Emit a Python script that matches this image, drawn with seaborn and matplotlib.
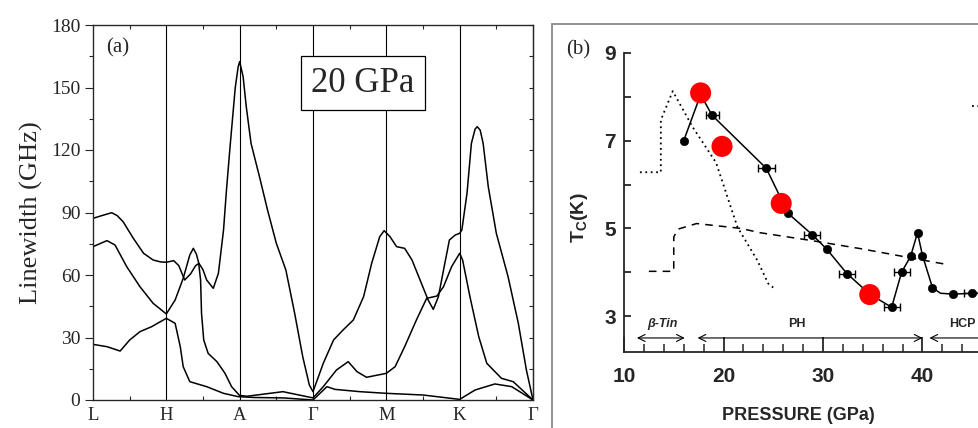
import numpy as np
import pandas as pd
import matplotlib
matplotlib.use("Agg")
import matplotlib.pyplot as plt
from matplotlib.lines import Line2D
from matplotlib.ticker import MultipleLocator, FixedLocator
import seaborn as sns

# ---- panel (a): linewidth along high-symmetry path ----
path_labels = ['L', 'H', 'A', 'Γ', 'M', 'K', 'Γ']
path_pos = [0, 1, 2, 3, 4, 5, 6]

top_q = [0, 0.12, 0.255, 0.33, 0.41, 0.55, 0.69, 0.82, 0.92, 1.0, 1.10, 1.17, 1.25, 1.33, 1.40,
         1.445, 1.50, 1.55, 1.64, 1.71, 1.78, 1.82, 1.87, 1.94, 1.98, 2.0, 2.047, 2.09, 2.155,
         2.27, 2.38, 2.50, 2.63, 2.75, 2.86, 2.95, 3.0, 3.14, 3.28, 3.41, 3.55, 3.69, 3.80, 3.91,
         3.97, 4.05, 4.14, 4.25, 4.35, 4.46, 4.57, 4.64, 4.71, 4.78, 4.86, 4.94, 5.0, 5.03, 5.10,
         5.16, 5.21, 5.24, 5.28, 5.32, 5.39, 5.50, 5.66, 5.80, 5.91, 6.0]
top_w = [87.2, 88.5, 89.9, 88.5, 85.6, 77.6, 70.4, 67.2, 66.3, 66.1, 66.9, 64.5, 57.6, 60.5, 64.5,
         65.6, 62.5, 57.6, 53.6, 60.8, 81.6, 100.8, 122.0, 150.0, 160.0, 162.4, 155.2, 140.8, 123.2,
         107.2, 91.2, 75.2, 62.4, 41.6, 20.8, 7.2, 4.0, 17.6, 28.8, 33.6, 38.4, 49.6, 65.6, 78.4,
         81.3, 78.4, 73.6, 72.8, 67.2, 57.6, 48.0, 43.5, 49.6, 62.4, 76.8, 79.2, 80.0, 81.6, 99.2,
         123.2, 130.0, 131.2, 129.5, 123.2, 102.4, 80.0, 59.2, 36.8, 14.4, 0.0]

mid_q = [0, 0.19, 0.30, 0.46, 0.64, 0.82, 1.0, 1.12, 1.23, 1.32, 1.368, 1.41, 1.44, 1.467, 1.48,
         1.51, 1.57, 1.69, 1.80, 1.89, 1.98, 2.0, 2.1, 2.59, 3.0, 3.14, 3.32, 3.48, 3.60, 3.73, 4.0,
         4.12, 4.25, 4.41, 4.55, 4.69, 4.78, 4.89, 5.0, 5.04, 5.14, 5.26, 5.37, 5.57, 5.73, 6.0]
mid_w = [73.6, 76.5, 74.4, 64.0, 54.4, 46.4, 41.3, 48.0, 58.4, 69.6, 72.8, 70.0, 66.0, 57.6, 41.6,
         28.8, 22.4, 18.4, 12.8, 6.4, 2.9, 2.2, 1.8, 4.0, 1.0, 6.4, 14.4, 18.4, 13.6, 10.9, 12.8,
         16.0, 25.6, 38.4, 48.8, 49.9, 54.4, 64.0, 70.4, 67.2, 49.6, 30.4, 17.6, 10.4, 8.8, 0.0]

low_q = [0, 0.19, 0.37, 0.5, 0.64, 0.8, 1.0, 1.12, 1.19, 1.23, 1.32, 1.55, 1.78, 1.98, 2.2, 2.6,
         3.0, 3.19, 3.30, 3.64, 4.0, 4.5, 5.0, 5.21, 5.48, 5.71, 6.0]
low_w = [26.7, 25.6, 23.5, 28.8, 32.8, 35.2, 39.2, 36.8, 25.6, 16.0, 8.8, 6.4, 3.2, 1.6, 1.2, 1.0,
         0.0, 6.4, 5.1, 4.0, 3.2, 2.4, 0.3, 4.8, 7.7, 6.4, 0.0]

# ---- panel (b): Tc vs pressure ----
exp_p = [16.0, 17.7, 18.85, 24.3, 26.5, 28.9, 30.4, 32.4, 34.7, 36.9, 37.9, 38.8, 39.5, 40.0,
         41.0, 41.8, 43.1, 45.0, 46.5]
exp_tc = [7.0, 8.05, 7.58, 6.37, 5.34, 4.86, 4.52, 3.97, 3.5, 3.2, 4.0, 4.36, 4.9, 4.38,
          3.65, 3.52, 3.5, 3.52, 3.52]
dot_p = [16.0, 18.85, 24.3, 26.5, 28.9, 30.4, 32.4, 36.9, 37.9, 38.8, 39.5, 40.0, 41.0, 43.1, 45.0]
dot_tc = [7.0, 7.58, 6.37, 5.34, 4.86, 4.52, 3.97, 3.2, 4.0, 4.36, 4.9, 4.38, 3.65, 3.5, 3.52]
err_p = [18.85, 24.3, 28.9, 32.4, 36.9, 37.9, 45.0]
err_tc = [7.58, 6.37, 4.86, 3.97, 3.2, 4.0, 3.52]
err_dp = [0.65, 0.85, 0.8, 0.8, 0.8, 0.8, 0.8]

calc_p = [17.7, 19.85, 25.8, 34.7]
calc_tc = [8.09, 6.87, 5.57, 3.49]

dotted_p = [11.6, 13.7, 13.7, 14.9, 16.9, 19.25, 21.4, 23.4, 24.5, 25.0]
dotted_tc = [6.28, 6.28, 7.47, 8.13, 7.31, 6.5, 5.03, 4.27, 3.74, 3.65]
dotted2_p = [45.0, 46.0]
dotted2_tc = [7.79, 7.79]

dashed_p = [12.5, 15.0, 15.0, 15.4, 17.3, 21.7, 23.7, 28.9, 33.7, 42.6]
dashed_tc = [4.02, 4.02, 4.8, 4.98, 5.11, 5.0, 4.9, 4.72, 4.54, 4.17]

phases = ['β-Tin', 'PH', 'HCP']
phase_from = [11.3, 17.4, 40.7]
phase_to = [16.1, 40.0, 48.0]
phase_text_p = [13.9, 27.4, 44.0]

sns.set_style("ticks")
plt.rcParams['mathtext.fontset'] = 'custom'
plt.rcParams['mathtext.bf'] = 'Liberation Sans:bold'
plt.rcParams['mathtext.rm'] = 'Liberation Sans'

fig = plt.figure(figsize=(9.79, 4.28), dpi=100)

# ---------------- panel (a) ----------------
serif = 'Liberation Serif'
ax = fig.add_axes([93 / 979, 1 - 400 / 428, 440 / 979, 375 / 428])
for q, w in [(top_q, top_w), (mid_q, mid_w), (low_q, low_w)]:
    sns.lineplot(x=q, y=w, ax=ax, color='k', lw=1.1, estimator=None, sort=False)
for p in path_pos[1:-1]:
    ax.axvline(p, color='k', lw=0.8, zorder=1)
ax.set_xlim(0, 6)
ax.set_ylim(0, 180)
ax.set_yticks(np.arange(0, 181, 30))
ax.yaxis.set_minor_locator(MultipleLocator(15))
ax.set_xticks(path_pos)
ax.set_xticklabels(path_labels, fontfamily=serif, fontsize=13.5)
ax.xaxis.set_minor_locator(FixedLocator(np.arange(0.5, 6, 1.0)))
ax.tick_params(axis='y', which='major', direction='out', length=6, width=0.8, pad=3,
               labelsize=14, left=True)
ax.tick_params(axis='y', which='minor', direction='out', length=3, width=0.8)
ax.tick_params(axis='x', which='major', length=0, pad=5)
ax.tick_params(axis='x', which='minor', direction='in', length=3, width=0.8, top=True, bottom=True)
for lab in ax.get_yticklabels():
    lab.set_fontfamily(serif)
for s in ax.spines.values():
    s.set_linewidth(0.9)
ax.set_ylabel('Linewidth (GHz)', fontfamily=serif, fontsize=19, labelpad=6)
ax.text(0.34, 169, '(a)', fontfamily=serif, fontsize=15, ha='center', va='center')
ax.text(3.68, 152, '20 GPa', fontfamily=serif, fontsize=25, ha='center', va='center',
        bbox=dict(boxstyle='square,pad=0.3', fc='white', ec='k', lw=0.9))

axr = ax.twinx()
axr.set_ylim(0, 180)
axr.set_yticks(np.arange(0, 181, 15))
axr.set_yticklabels([])
axr.tick_params(axis='y', direction='in', length=3, width=0.8)
axr.spines['right'].set_linewidth(0.9)

# ---------------- panel (b) ----------------
fig.add_artist(Line2D([552 / 979, 552 / 979], [0, 1 - 24 / 428], transform=fig.transFigure,
                      color='#8a8a8a', lw=1.3))
fig.add_artist(Line2D([552 / 979, 1], [1 - 24 / 428, 1 - 24 / 428], transform=fig.transFigure,
                      color='#8a8a8a', lw=1.3))
fig.text(578 / 979, 1 - 50 / 428, '(b)', fontfamily=serif, fontsize=15, ha='center', va='center')

sans = 'Liberation Sans'
bx = fig.add_axes([624 / 979, 1 - 352 / 428, 358.2 / 979, 299 / 428])
bx.patch.set_alpha(0)
bx.set_xlim(10, 46)
bx.set_ylim(2.18, 9)
sns.lineplot(x=exp_p, y=exp_tc, ax=bx, color='k', lw=1.1, estimator=None, sort=False)
bx.errorbar(err_p, err_tc, xerr=err_dp, fmt='none', ecolor='k', elinewidth=1.0, capsize=3,
            capthick=1.0, zorder=3)
sns.scatterplot(x=dot_p, y=dot_tc, ax=bx, color='k', s=36, edgecolor='k', zorder=4)
sns.lineplot(x=dotted_p, y=dotted_tc, ax=bx, color='k', lw=1.3, ls=(0, (1, 2)),
             estimator=None, sort=False)
sns.lineplot(x=dotted2_p, y=dotted2_tc, ax=bx, color='k', lw=1.3, ls=(0, (1, 2)),
             estimator=None, sort=False)
sns.lineplot(x=dashed_p, y=dashed_tc, ax=bx, color='k', lw=1.1, ls=(0, (5, 4)),
             estimator=None, sort=False)
sns.scatterplot(x=calc_p, y=calc_tc, ax=bx, color='#ff0000', s=230, edgecolor='none', zorder=5)
for name, a, b, tp in zip(phases, phase_from, phase_to, phase_text_p):
    bx.annotate('', xy=(a, 2.5), xytext=(b, 2.5),
                arrowprops=dict(arrowstyle='<->,head_length=0.5,head_width=0.25', lw=0.8,
                                color='k', shrinkA=0, shrinkB=0), annotation_clip=False)
    bx.text(tp, 2.83, name, fontfamily=sans, fontweight='bold', fontsize=9,
            fontstyle='italic' if name == 'β-Tin' else 'normal', ha='center', va='center')
for side in ['top', 'right']:
    bx.spines[side].set_visible(False)
for side in ['left', 'bottom']:
    bx.spines[side].set_linewidth(1.3)
bx.set_xticks([10, 20, 30, 40])
bx.xaxis.set_minor_locator(MultipleLocator(2))
bx.set_yticks([3, 5, 7, 9])
bx.yaxis.set_minor_locator(FixedLocator([4, 6, 8]))
bx.tick_params(axis='x', which='major', direction='in', length=11, width=1.3, pad=11, labelsize=15)
bx.tick_params(axis='x', which='minor', direction='in', length=6, width=1.1)
bx.tick_params(axis='y', which='both', direction='in', length=5, width=1.3, pad=6, labelsize=15)
for lab in bx.get_xticklabels() + bx.get_yticklabels():
    lab.set_fontfamily(sans)
    lab.set_fontweight('bold')
bx.set_xlabel('PRESSURE (GPa)', fontfamily=sans, fontweight='bold', fontsize=13)
bx.xaxis.set_label_coords(0.486, -0.185)
bx.set_ylabel(r'$\mathbf{T_C}$' + '(K)', fontfamily=sans, fontweight='bold', fontsize=14)
bx.yaxis.set_label_coords(-0.095, 0.45)

fig.savefig('out.png', dpi=100)
